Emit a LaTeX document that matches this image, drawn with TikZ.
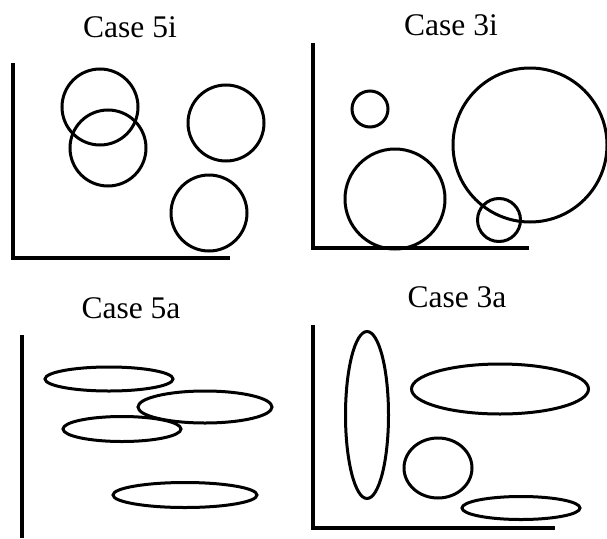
\documentclass[tikz,border=0pt]{standalone}
\usepackage{fontspec}
\setmainfont{Liberation Serif}
\usetikzlibrary{shapes.geometric}
\begin{document}
\begin{tikzpicture}[x=1pt,y=-1pt,
  axis/.style={line width=4pt},
  blob/.style={draw,line width=3pt,inner sep=0pt,outer sep=0pt},
  circ/.style={blob,circle,minimum size=#1},
  ell/.style 2 args={blob,ellipse,minimum width=#1,minimum height=#2},
  title/.style={anchor=base,font=\fontsize{31.5}{31.5}\selectfont,inner sep=0pt}]
\useasboundingbox (0,0) rectangle (607,538);
% Panel 1: Case 5i
\node[title] (t1) at (130,37) {Case 5i};
\coordinate (a1) at (13,63);
\coordinate (o1) at (13,258);
\coordinate (b1) at (230,258);
\draw[axis] (a1) -- (o1) -- (b1);
\node[circ=76] (c1a) at (100,107) {};
\node[circ=76] (c1b) at (108,148) {};
\node[circ=76] (c1c) at (226,123) {};
\node[circ=76] (c1d) at (209,213) {};
% Panel 2: Case 3i
\node[title] (t2) at (451,35) {Case 3i};
\coordinate (a2) at (313,43);
\coordinate (o2) at (313,248);
\coordinate (b2) at (529,248);
\draw[axis] (a2) -- (o2) -- (b2);
\node[circ=36] (c2a) at (370,109) {};
\node[circ=100] (c2b) at (395,199) {};
\node[circ=154] (c2c) at (530,145) {};
\node[circ=43] (c2d) at (499,220) {};
% Panel 3: Case 5a
\node[title] (t3) at (131,318) {Case 5a};
\coordinate (a3) at (22,335);
\coordinate (o3) at (22,538);
\draw[axis] (a3) -- (o3);
\node[ell={128}{24}] (e3a) at (109,379) {};
\node[ell={134}{32}] (e3b) at (205,407) {};
\node[ell={118}{25}] (e3c) at (122,429) {};
\node[ell={144}{25}] (e3d) at (185,495) {};
% Panel 4: Case 3a
\node[title] (t4) at (457,307) {Case 3a};
\coordinate (a4) at (313,325);
\coordinate (o4) at (313,528);
\coordinate (b4) at (555,528);
\draw[axis] (a4) -- (o4) -- (b4);
\node[ell={43}{167}] (e4a) at (367,415) {};
\node[ell={177}{50}] (e4b) at (500,389) {};
\node[ell={68}{60}] (e4c) at (438,468) {};
\node[ell={118}{23}] (e4d) at (521,508) {};
\end{tikzpicture}
\end{document}
